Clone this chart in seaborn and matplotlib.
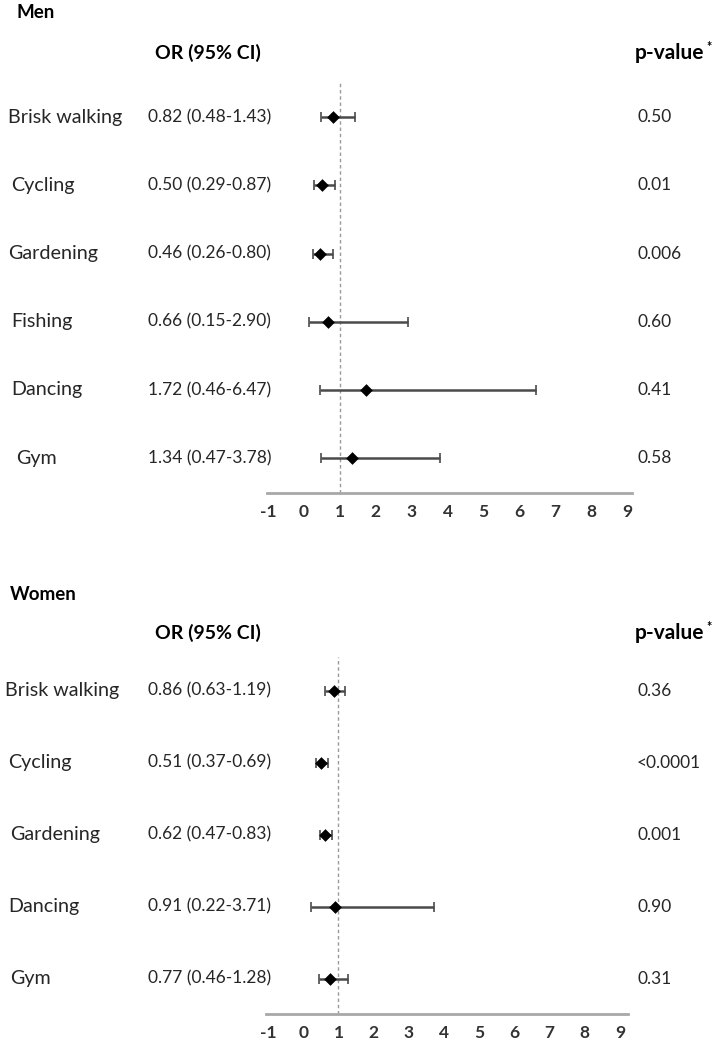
import numpy as np
import pandas as pd
import matplotlib
matplotlib.use("Agg")
import matplotlib.pyplot as plt
import matplotlib.transforms as mtransforms
import seaborn as sns

# data
men_activity = ["Brisk walking", "Cycling", "Gardening", "Fishing", "Dancing", "Gym"]
men_or = [0.82, 0.50, 0.46, 0.66, 1.72, 1.34]
men_lo = [0.48, 0.29, 0.26, 0.15, 0.46, 0.47]
men_hi = [1.43, 0.87, 0.80, 2.90, 6.47, 3.78]
men_p = ["0.50", "0.01", "0.006", "0.60", "0.41", "0.58"]

women_activity = ["Brisk walking", "Cycling", "Gardening", "Dancing", "Gym"]
women_or = [0.86, 0.51, 0.62, 0.91, 0.77]
women_lo = [0.63, 0.37, 0.47, 0.22, 0.46]
women_hi = [1.19, 0.69, 0.83, 3.71, 1.28]
women_p = ["0.36", "<0.0001", "0.001", "0.90", "0.31"]

xticks = [-1, 0, 1, 2, 3, 4, 5, 6, 7, 8, 9]

sns.set_style("white")
plt.rcParams['font.family'] = ['Lato', 'DejaVu Sans']

W, H = 717, 1045
fig = plt.figure(figsize=(W / 100, H / 100), dpi=100)


def fx(px):
    return px / W


def fy(py):
    return 1 - py / H


txt_col = '#262626'


def panel(rect, xlim, ylim, title, title_y, title_x, activity, orv, lo, hi, pv, label_x):
    ax = fig.add_axes(rect)
    df = pd.DataFrame({'activity': activity, 'OR': orv, 'lo': lo, 'hi': hi,
                       'pos': np.arange(len(activity))})
    ax.axvline(1, color='#9a9a9a', lw=1, ls=(0, (2.5, 2)), zorder=1)
    ax.errorbar(df['OR'], df['pos'], xerr=[df['OR'] - df['lo'], df['hi'] - df['OR']],
                fmt='none', ecolor='#4a4a4a', elinewidth=1.8, capsize=3.5, capthick=1.2, zorder=2)
    sns.scatterplot(data=df, x='OR', y='pos', marker='D', s=42, color='black',
                    edgecolor='black', linewidth=0, ax=ax, zorder=3)
    ax.set_xlim(*xlim)
    ax.set_ylim(*ylim)
    ax.set_xticks(xticks)
    ax.set_xticklabels([str(t) for t in xticks])
    ax.set_yticks([])
    ax.set_xlabel('')
    ax.set_ylabel('')
    for s in ['top', 'left', 'right']:
        ax.spines[s].set_visible(False)
    ax.spines['bottom'].set_color('#a8a8a8')
    ax.spines['bottom'].set_linewidth(2)
    ax.tick_params(axis='x', length=0, pad=8, labelsize=12.5, labelcolor='#333333')
    for lab in ax.get_xticklabels():
        lab.set_fontweight('bold')

    tr = mtransforms.blended_transform_factory(fig.transFigure, ax.transData)
    for i, row in df.iterrows():
        ax.text(fx(label_x[i]), row['pos'], row['activity'], transform=tr, ha='left', va='center',
                fontsize=14.2, color=txt_col, clip_on=False)
        ax.text(fx(148), row['pos'], f"{row['OR']:.2f} ({row['lo']:.2f}-{row['hi']:.2f})",
                transform=tr, ha='left', va='center', fontsize=12.5, color=txt_col, clip_on=False)
        ax.text(fx(637), row['pos'], pv[i], transform=tr, ha='left', va='center',
                fontsize=12.5, color=txt_col, clip_on=False)

    fig.text(fx(title_x), fy(title_y), title, ha='left', va='center', fontsize=13.5,
             fontweight='bold', color='black')
    return ax


men_ax = panel([fx(267), fy(493), (632 - 267) / W, (493 - 83) / H], (-1.03, 9.14), (5.51, -0.5),
               'Men', 13, 17, men_activity, men_or, men_lo, men_hi, men_p,
               [8, 11, 8, 11, 11, 16])
women_ax = panel([fx(266), fy(1014), (628 - 266) / W, (1014 - 657) / H], (-1.06, 9.23), (4.49, -0.47),
                 'Women', 594, 10, women_activity, women_or, women_lo, women_hi, women_p,
                 [5, 8, 10, 8, 10])

fig.canvas.draw()
renderer = fig.canvas.get_renderer()
for hy in [53, 633]:
    fig.text(fx(155), fy(hy), 'OR (95% CI)', ha='left', va='center', fontsize=14,
             fontweight='bold', color='black')
    pt = fig.text(fx(635), fy(hy), 'p-value', ha='left', va='center', fontsize=15,
                  fontweight='bold', color='black')
    bb = pt.get_window_extent(renderer=renderer)
    fig.text(bb.x1 / W + 0.002, fy(hy - 6), '*', ha='left', va='center', fontsize=9,
             fontweight='bold', color='black')

plt.savefig('out.png', dpi=100)
